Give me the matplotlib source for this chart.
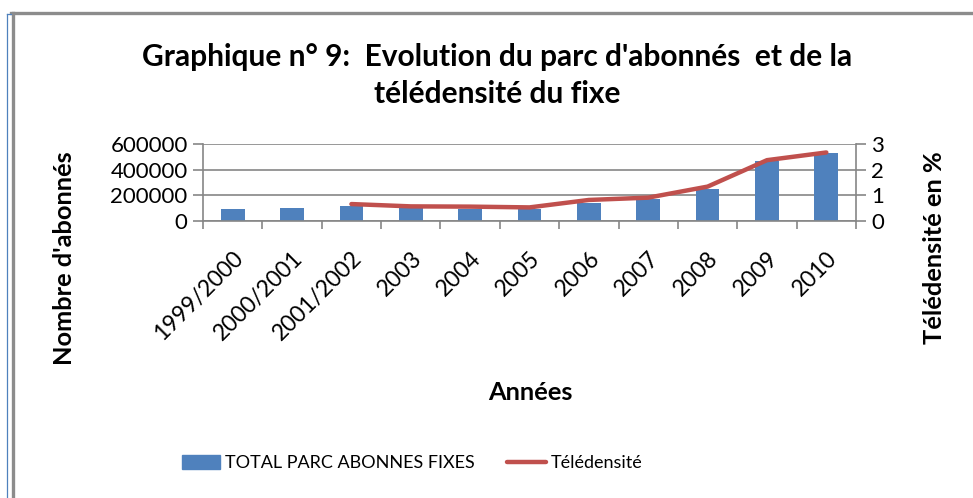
import matplotlib
matplotlib.use("Agg")
import matplotlib.pyplot as plt
from matplotlib.lines import Line2D
import numpy as np

# data
annees = ["1999/2000", "2000/2001", "2001/2002", "2003", "2004", "2005",
          "2006", "2007", "2008", "2009", "2010"]
parc_fixe = [94000, 101000, 115000, 98000, 97000, 94000,
             143000, 169000, 250000, 470000, 532000]
teledensite = [np.nan, np.nan, 0.66, 0.57, 0.56, 0.53,
               0.82, 0.91, 1.34, 2.37, 2.67]

BLUE = "#4F81BD"
RED = "#C0504D"
GRID = "#868686"
FONT = ["Lato", "DejaVu Sans"]

plt.rcParams["font.family"] = FONT

fig = plt.figure(figsize=(9.73, 4.98), dpi=100)
W, H = 973.0, 498.0

def fx(px):
    return px / W

def fy(py):
    return 1 - py / H

ax = fig.add_axes([fx(203), fy(221), fx(856) - fx(203), fy(144) - fy(221)])
x = np.arange(len(annees))
ax.bar(x, parc_fixe, width=0.4, color=BLUE, zorder=2,
       label="TOTAL PARC ABONNES FIXES")
ax.set_xlim(-0.5, len(annees) - 0.5)
ax.set_ylim(0, 600000)
ax.set_yticks([0, 200000, 400000, 600000])
ax.set_yticklabels(["0", "200000", "400000", "600000"])
ax.yaxis.grid(True, color=GRID, lw=1.2, zorder=0)
ax.set_axisbelow(True)

ax.set_xticks(x)
ax.set_xticklabels(annees, rotation=45, ha="right", rotation_mode="anchor")
ax.set_xticks(np.arange(len(annees) + 1) - 0.5, minor=True)
ax.tick_params(axis="x", which="major", length=0, pad=19, labelsize=16.5)
ax.tick_params(axis="x", which="minor", length=6, width=1.2, color=GRID)
ax.tick_params(axis="y", length=7, width=1.2, color=GRID, labelsize=16, pad=4)

for side in ["top", "right"]:
    ax.spines[side].set_visible(False)
for side in ["left", "bottom"]:
    ax.spines[side].set_color(GRID)
    ax.spines[side].set_linewidth(1.2)

ax2 = ax.twinx()
ax2.plot(x, teledensite, color=RED, lw=3.2, solid_capstyle="round",
         solid_joinstyle="round", zorder=3, label="Télédensité")
ax2.set_ylim(0, 3)
ax2.set_yticks([0, 1, 2, 3])
ax2.tick_params(axis="y", length=7, width=1.2, color=GRID, labelsize=16, pad=4)
for side in ["top", "left", "bottom"]:
    ax2.spines[side].set_visible(False)
ax2.spines["right"].set_color(GRID)
ax2.spines["right"].set_linewidth(1.2)

fig.text(fx(497), fy(75.5), "Graphique n° 9:  Evolution du parc d'abonnés  et de la\ntélédensité du fixe",
         ha="center", va="center", fontsize=21.5, fontweight="bold", linespacing=1.4)
fig.text(fx(64), fy(258), "Nombre d'abonnés", rotation=90, ha="center", va="center",
         fontsize=18.3, fontweight="bold")
fig.text(fx(935), fy(248), "Télédensité en %", rotation=90, ha="center", va="center",
         fontsize=18.3, fontweight="bold")
fig.text(fx(530), fy(392), "Années", ha="center", va="center",
         fontsize=18.3, fontweight="bold")

handles = [plt.Rectangle((0, 0), 1, 1, color=BLUE),
           Line2D([0], [0], color=RED, lw=3.2, solid_capstyle="round")]
fig.legend(handles, ["TOTAL PARC ABONNES FIXES", "Télédensité"],
           loc="center", bbox_to_anchor=(fx(412), fy(463)), ncol=2, frameon=False,
           fontsize=13, handlelength=2.15, handleheight=0.85, columnspacing=1.8,
           handletextpad=0.25, borderaxespad=0)

# outer frame of the chart object
fig.add_artist(Line2D([fx(11), 1], [fy(13.5), fy(13.5)], color="#8C8C8C", lw=2.4))
fig.add_artist(Line2D([fx(12.5), fx(12.5)], [fy(13), 0], color="#8C8C8C", lw=2.4))
fig.add_artist(Line2D([fx(7), fx(7)], [fy(14), 0], color=BLUE, lw=0.9))
fig.add_artist(Line2D([fx(7), fx(11)], [fy(14), fy(14)], color=BLUE, lw=0.9))

fig.savefig("out.png", dpi=100)
